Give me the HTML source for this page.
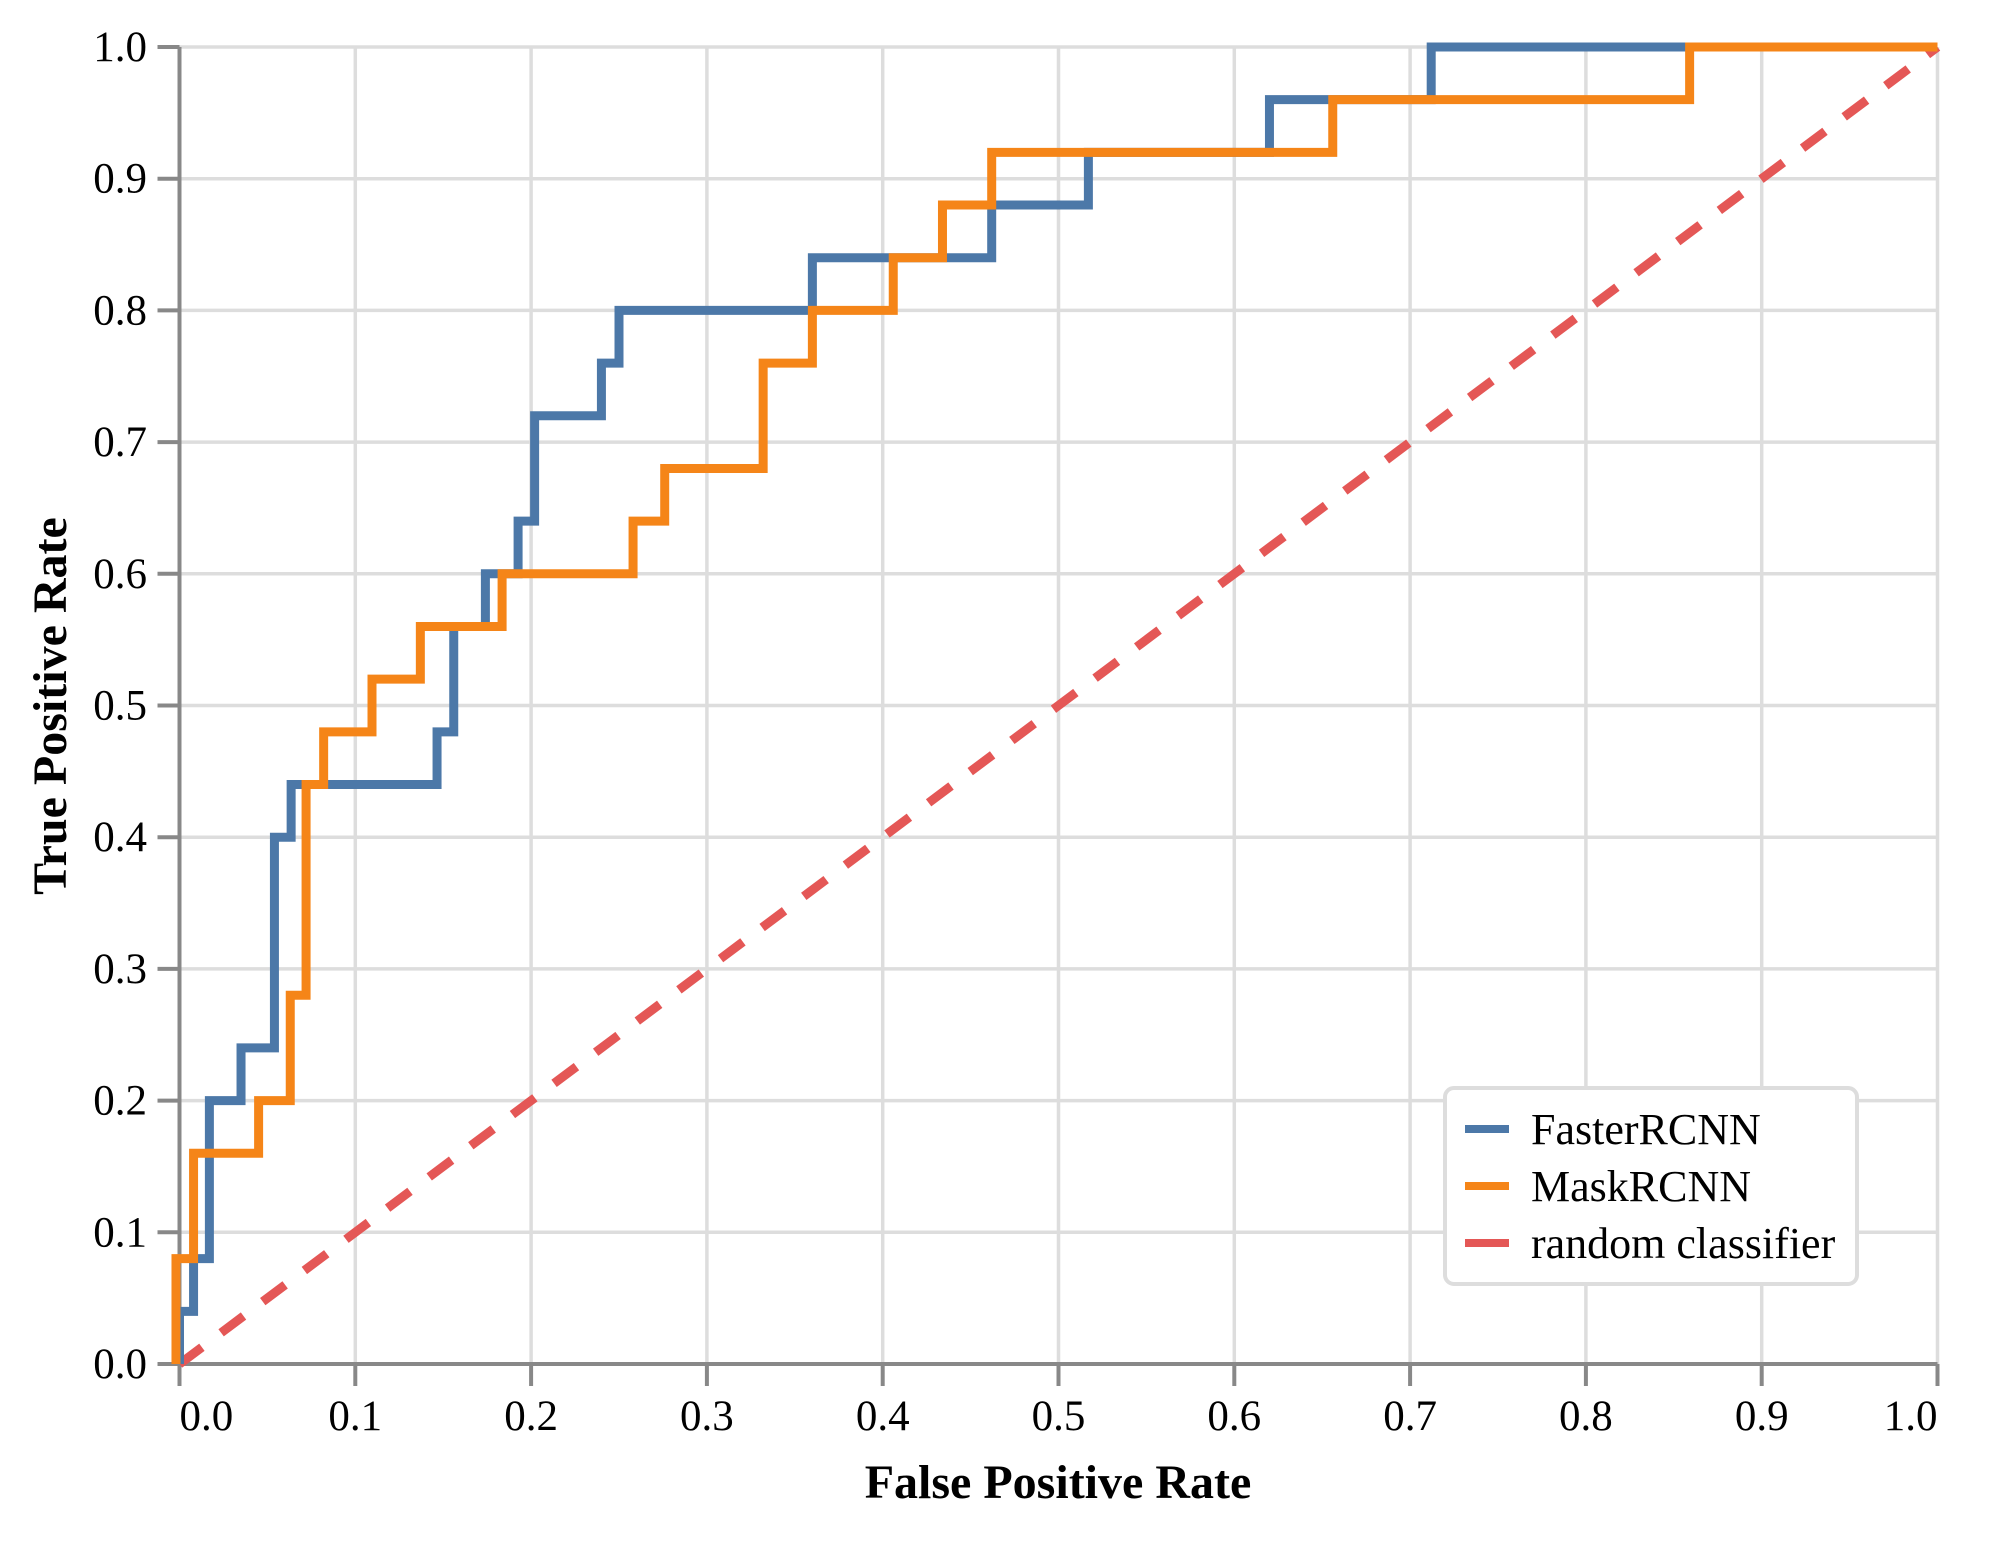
<!DOCTYPE html>
<html><head><meta charset="utf-8">
<style>
html,body{margin:0;padding:0;background:#fff;}
svg{display:block;}
text{font-family:"Liberation Serif",serif;fill:#000;}
</style></head>
<body>
<svg id="chart" width="1989" height="1544" viewBox="0 0 1989 1544">
  <g id="grid"></g>
  <g id="axes"></g>
  <g id="marks"></g>
  <text x="1058" y="1498" text-anchor="middle" font-weight="bold" font-size="48">False Positive Rate</text>
  <text transform="translate(66,706) rotate(-90)" text-anchor="middle" font-weight="bold" font-size="48">True Positive Rate</text>
  <g>
    <rect x="1445" y="1088" width="412" height="196" rx="9" fill="#fff" stroke="#ddd" stroke-width="4"/>
    <line x1="1465" y1="1129" x2="1509" y2="1129" stroke="#4c78a8" stroke-width="8"/>
    <text x="1531" y="1144" font-size="44">FasterRCNN</text>
    <line x1="1465" y1="1186" x2="1509" y2="1186" stroke="#f58518" stroke-width="8"/>
    <text x="1531" y="1201" font-size="44">MaskRCNN</text>
    <line x1="1465" y1="1243" x2="1509" y2="1243" stroke="#e45756" stroke-width="8"/>
    <text x="1531" y="1258" font-size="44">random classifier</text>
  </g>
</svg>
<script>
const xTicks = [0,0.1,0.2,0.3,0.4,0.5,0.6,0.7,0.8,0.9,1.0];
const yTicks = [0,0.1,0.2,0.3,0.4,0.5,0.6,0.7,0.8,0.9,1.0];
const fasterFpr = [0,0,0.008,0.017,0.035,0.054,0.0635,0.1465,0.156,0.174,0.1926,0.202,0.240,0.250,0.360,0.462,0.517,0.620,0.712,1.0];
const fasterTpr = [0,0.04,0.08,0.2,0.24,0.4,0.44,0.48,0.56,0.6,0.64,0.72,0.76,0.8,0.84,0.88,0.92,0.96,1.0,1.0];
const maskFpr = [-0.002,-0.002,0.008,0.045,0.063,0.072,0.082,0.1095,0.137,0.1835,0.258,0.276,0.332,0.360,0.406,0.434,0.462,0.656,0.859,1.0];
const maskTpr = [0,0.08,0.16,0.2,0.28,0.44,0.48,0.52,0.56,0.6,0.64,0.68,0.76,0.8,0.84,0.88,0.92,0.96,1.0,1.0];
const randomFpr = [0,1];
const randomTpr = [0,1];

const X0=179.5, X1=1937.5, Y0=1364, Y1=47;
const sx = v => X0 + v*(X1-X0);
const sy = v => Y0 - v*(Y0-Y1);
const NS='http://www.w3.org/2000/svg';
const grid=document.getElementById('grid'), axes=document.getElementById('axes'), marks=document.getElementById('marks');
function mk(tag, attrs, parent){const e=document.createElementNS(NS,tag);for(const k in attrs)e.setAttribute(k,attrs[k]);parent.appendChild(e);return e;}

xTicks.forEach((t,i)=>{
  const x=sx(t);
  const g=mk('line',{x1:x,y1:Y1,x2:x,y2:Y0,stroke:'#ddd','stroke-width':3.5},grid);
  
  
  const tk=mk('line',{x1:x,y1:Y0,x2:x,y2:Y0+22,stroke:'#888','stroke-width':4},axes);
  
  
  const anchor = i===0?'start':(i===xTicks.length-1?'end':'middle');
  const lb=mk('text',{x:x,y:1430,'text-anchor':anchor,'font-size':43},axes);
  lb.textContent=t.toFixed(1);
  
  
});
yTicks.forEach(t=>{
  const y=sy(t);
  const g=mk('line',{x1:X0,y1:y,x2:X1,y2:y,stroke:'#ddd','stroke-width':3.5},grid);
  
  
  const tk=mk('line',{x1:X0-22,y1:y,x2:X0,y2:y,stroke:'#888','stroke-width':4},axes);
  
  
  const lb=mk('text',{x:147,y:y+14,'text-anchor':'end','font-size':43},axes);
  lb.textContent=t.toFixed(1);
  
  
});
const xa=mk('line',{x1:X0,y1:Y0,x2:X1,y2:Y0,stroke:'#888','stroke-width':4},axes);


const ya=mk('line',{x1:X0,y1:Y1,x2:X0,y2:Y0,stroke:'#888','stroke-width':4},axes);



function stepPath(xs, ys){
  let d='M'+sx(xs[0])+','+sy(ys[0]);
  for(let i=1;i<xs.length;i++){ d+=' H'+sx(xs[i])+' V'+sy(ys[i]); }
  return d;
}
const rp=mk('path',{d:'M'+sx(randomFpr[0])+','+sy(randomTpr[0])+' L'+sx(randomFpr[1])+','+sy(randomTpr[1]),fill:'none',stroke:'#e45756','stroke-width':9,'stroke-dasharray':'28,24'},marks);


const mp=mk('path',{d:stepPath(maskFpr,maskTpr),fill:'none',stroke:'#f58518','stroke-width':9,'stroke-linejoin':'miter'},marks);
const fp=mk('path',{d:stepPath(fasterFpr,fasterTpr),fill:'none',stroke:'#4c78a8','stroke-width':9,'stroke-linejoin':'miter'},marks);


marks.appendChild(mp);


</script>
</body></html>
